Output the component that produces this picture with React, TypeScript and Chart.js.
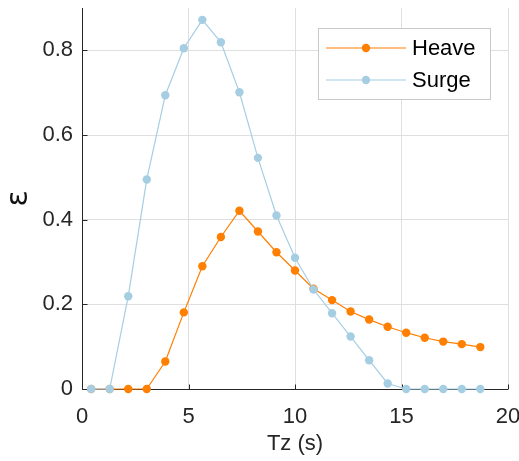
import React, { useEffect, useRef } from "react";
import { Chart, registerables } from "chart.js";

Chart.register(...registerables);

const X_VALUES = [0.43, 1.3, 2.17, 3.04, 3.91, 4.78, 5.65, 6.52, 7.39, 8.26, 9.13, 10.0, 10.87, 11.74, 12.61, 13.48, 14.35, 15.22, 16.09, 16.96, 17.83, 18.7];
const HEAVE = [0, 0, 0, 0, 0.065, 0.181, 0.29, 0.359, 0.421, 0.372, 0.323, 0.28, 0.237, 0.21, 0.183, 0.164, 0.147, 0.133, 0.121, 0.112, 0.106, 0.099];
const SURGE = [0, 0, 0.219, 0.495, 0.694, 0.805, 0.872, 0.819, 0.701, 0.546, 0.41, 0.31, 0.235, 0.179, 0.124, 0.068, 0.013, 0, 0, 0, 0, 0];
const X_TICKS = [0, 5, 10, 15, 20];
const X_TICK_LABELS = ["0", "5", "10", "15", "20"];
const Y_TICKS = [0, 0.2, 0.4, 0.6, 0.8];
const Y_TICK_LABELS = ["0", "0.2", "0.4", "0.6", "0.8"];
const SERIES_NAMES = ["Heave", "Surge"];

const HEAVE_COLOR = "#ff7f00";
const SURGE_COLOR = "#a6cee3";
const TEXT_COLOR = "#262626";
const GRID_COLOR = "#dfdfdf";
const FONT_FAMILY = "'Liberation Sans', Arial, Helvetica, sans-serif";
const FONT_SIZE = 22;

const axesPlugin = {
  id: "matlabAxes",
  beforeDatasetsDraw(chart: any) {
    const { ctx, chartArea } = chart;
    const xs = chart.scales.x;
    const ys = chart.scales.y;
    ctx.save();
    ctx.strokeStyle = TEXT_COLOR;
    ctx.lineWidth = 1;
    ctx.beginPath();
    const bottom = Math.round(chartArea.bottom) + 0.5;
    const left = Math.round(chartArea.left) + 0.5;
    ctx.moveTo(left, chartArea.top);
    ctx.lineTo(left, bottom);
    ctx.lineTo(chartArea.right, bottom);
    for (const v of X_TICKS) {
      const px = Math.round(xs.getPixelForValue(v)) + 0.5;
      ctx.moveTo(px, bottom);
      ctx.lineTo(px, bottom - 5);
    }
    for (const v of Y_TICKS) {
      const py = Math.round(ys.getPixelForValue(v)) + 0.5;
      ctx.moveTo(left, py);
      ctx.lineTo(left + 5, py);
    }
    ctx.stroke();
    ctx.restore();
  },
  afterDraw(chart: any) {
    const { ctx } = chart;
    ctx.save();
    const bx = 318.5, by = 28.5, bw = 172, bh = 71;
    ctx.fillStyle = "#ffffff";
    ctx.fillRect(bx, by, bw, bh);
    ctx.strokeStyle = "#c8c8c8";
    ctx.lineWidth = 1;
    ctx.strokeRect(bx, by, bw, bh);
    const items = [
      { name: SERIES_NAMES[0], color: HEAVE_COLOR, y: 48 },
      { name: SERIES_NAMES[1], color: SURGE_COLOR, y: 80 },
    ];
    for (const it of items) {
      ctx.strokeStyle = it.color;
      ctx.lineWidth = 1.2;
      ctx.beginPath();
      ctx.moveTo(326, it.y);
      ctx.lineTo(406, it.y);
      ctx.stroke();
      ctx.fillStyle = it.color;
      ctx.beginPath();
      ctx.arc(366, it.y, 4.2, 0, Math.PI * 2);
      ctx.fill();
      ctx.fillStyle = "#000000";
      ctx.font = `${FONT_SIZE}px ${FONT_FAMILY}`;
      ctx.textBaseline = "middle";
      ctx.textAlign = "left";
      ctx.fillText(it.name, 412, it.y + 1);
    }
    ctx.restore();
  },
};

export default function App() {
  const canvasRef = useRef<HTMLCanvasElement | null>(null);

  useEffect(() => {
    const canvas = canvasRef.current;
    if (!canvas) return;
    const toPoints = (ys: number[]) => X_VALUES.map((x, i) => ({ x, y: ys[i] }));
    const chart = new Chart(canvas, {
      type: "line",
      data: {
        datasets: [
          {
            label: SERIES_NAMES[0],
            data: toPoints(HEAVE),
            borderColor: HEAVE_COLOR,
            backgroundColor: HEAVE_COLOR,
            pointBackgroundColor: HEAVE_COLOR,
            pointBorderWidth: 0,
            pointRadius: 4.2,
            borderWidth: 1.2,
            tension: 0,
            clip: false,
            order: 1,
          } as any,
          {
            label: SERIES_NAMES[1],
            data: toPoints(SURGE),
            borderColor: SURGE_COLOR,
            backgroundColor: SURGE_COLOR,
            pointBackgroundColor: SURGE_COLOR,
            pointBorderWidth: 0,
            pointRadius: 4.2,
            borderWidth: 1.2,
            tension: 0,
            clip: false,
            order: 0,
          } as any,
        ],
      },
      options: {
        responsive: false,
        animation: false,
        devicePixelRatio: 1,
        layout: { padding: { top: 8, right: 11, left: 0, bottom: 0 } },
        plugins: { legend: { display: false }, tooltip: { enabled: false } },
        scales: {
          x: {
            type: "linear",
            min: 0,
            max: 20,
            border: { display: false },
            grid: { color: GRID_COLOR, lineWidth: 1, drawTicks: false },
            afterBuildTicks: (scale: any) => {
              scale.ticks = X_TICKS.map((v) => ({ value: v }));
            },
            afterFit: (scale: any) => {
              scale.height = 72;
              scale.paddingLeft = 0;
              scale.paddingRight = 0;
            },
            ticks: {
              color: TEXT_COLOR,
              font: { family: FONT_FAMILY, size: FONT_SIZE },
              padding: 15,
              maxRotation: 0,
              callback: (v: any) => X_TICK_LABELS[X_TICKS.indexOf(Number(v))] ?? "",
            },
            title: {
              display: true,
              text: "Tz (s)",
              color: TEXT_COLOR,
              font: { family: FONT_FAMILY, size: FONT_SIZE },
              padding: { top: 0, bottom: 4 },
            },
          },
          y: {
            type: "linear",
            min: 0,
            max: 0.9,
            border: { display: false },
            grid: { color: GRID_COLOR, lineWidth: 1, drawTicks: false },
            afterBuildTicks: (scale: any) => {
              scale.ticks = Y_TICKS.map((v) => ({ value: v }));
            },
            afterFit: (scale: any) => {
              scale.width = 82;
              scale.paddingTop = 0;
              scale.paddingBottom = 0;
            },
            ticks: {
              color: TEXT_COLOR,
              font: { family: FONT_FAMILY, size: FONT_SIZE },
              padding: 9,
              callback: (v: any) => {
                const i = Y_TICKS.findIndex((t) => Math.abs(t - Number(v)) < 1e-9);
                return i >= 0 ? Y_TICK_LABELS[i] : "";
              },
            },
            title: {
              display: true,
              text: "ε",
              color: "#111111",
              font: { family: "'DejaVu Sans', " + FONT_FAMILY, size: 30 },
              padding: { top: 1, bottom: 0 },
            },
          },
        },
      },
      plugins: [axesPlugin],
    });
    return () => chart.destroy();
  }, []);

  return (
    <div style={{ position: "fixed", left: 0, top: 0, width: 519, height: 461, background: "#ffffff" }}>
      <canvas ref={canvasRef} width={519} height={461} style={{ display: "block", width: 519, height: 461 }} />
    </div>
  );
}
